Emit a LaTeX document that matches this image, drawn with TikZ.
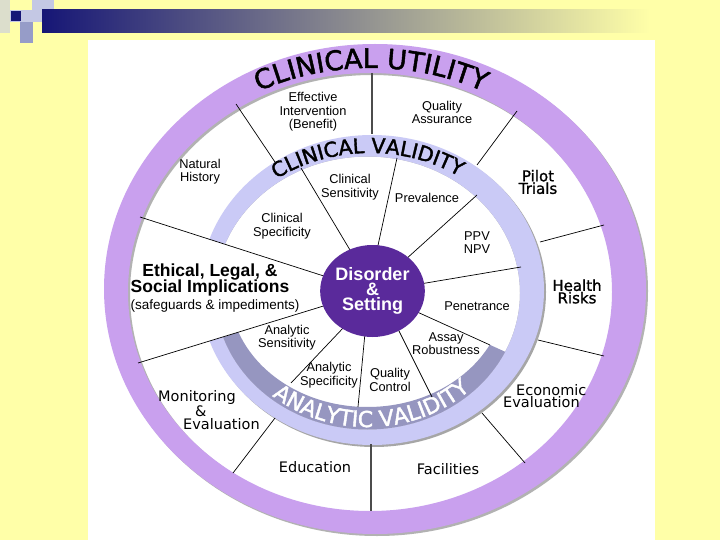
\documentclass[tikz,border=0pt]{standalone}
\usepackage{fontspec}
\setmainfont{Liberation Sans}
\newfontfamily\wheelfont{DejaVu Sans}
\newfontfamily\wheelboldfont[FakeBold=1.2]{DejaVu Sans}
\newfontfamily\ringtitlefont[FakeBold=1.8]{DejaVu Sans}
\usetikzlibrary{decorations.text,shapes.geometric}
\definecolor{slidebg}{RGB}{255,255,168}
\definecolor{navy}{RGB}{22,22,118}
\definecolor{pixlight}{RGB}{196,200,228}
\definecolor{pixmid}{RGB}{150,156,200}
\definecolor{utilc}{RGB}{201,160,238}
\definecolor{clinc}{RGB}{202,202,246}
\definecolor{analc}{RGB}{150,150,192}
\definecolor{hubc}{RGB}{90,42,155}
\newcommand{\utilfont}{\ringtitlefont\fontsize{27}{27}\selectfont}
\newcommand{\clinfont}{\ringtitlefont\fontsize{20.5}{20.5}\selectfont}
\newcommand{\analfont}{\ringtitlefont\fontsize{22}{22}\selectfont}

\begin{document}
\begin{tikzpicture}[x=1pt, y=1pt,
  lbl/.style={align=center, inner sep=0pt, font=\fontsize{12.8}{13.5}\selectfont},
  outlbl/.style={align=center, inner sep=0pt, font=\wheelfont\fontsize{14.5}{12.7}\selectfont},
  outbold/.style={align=center, inner sep=0pt, font=\wheelboldfont\fontsize{15}{12.5}\selectfont},
  spoke/.style={line width=0.7pt},
  mainspoke/.style={line width=1.8pt, black!70},
  hub/.style={ellipse, fill=hubc, text=white, inner sep=0pt, minimum width=103pt, minimum height=92pt, align=center, font=\bfseries\fontsize{18}{15}\selectfont}]

  \useasboundingbox (0,0) rectangle (720,-540);
  \fill[slidebg] (0,0) rectangle (720,-540);

  % header
  \fill[pixlight!60!slidebg] (0,0) rectangle (10,-33);
  \fill[pixlight] (32,0) rectangle (54,-10);
  \fill[pixlight] (22,-10) rectangle (42,-22);
  \fill[pixmid] (20,-22) rectangle (33,-43);
  \fill[navy, draw=pixlight, line width=1pt] (10.5,-10.5) rectangle (21.5,-21.5);
  \shade[left color=navy, right color=slidebg] (42,-10) rectangle (650,-33);
  \fill[white] (88,-40) rectangle (655,-540);

  % rings
  \fill[black!30, even odd rule] (377,-291) ellipse [x radius=271pt, y radius=245pt] (372,-294) ellipse [x radius=242pt, y radius=219pt];
  \fill[utilc, even odd rule] (375,-289) ellipse [x radius=271pt, y radius=245pt] (370,-292) ellipse [x radius=242pt, y radius=219pt];
  \fill[black!35, even odd rule] (374,-292) ellipse [x radius=172pt, y radius=155pt] (367.5,-293) ellipse [x radius=152.5pt, y radius=136.5pt];
  \fill[clinc, even odd rule] (372,-290) ellipse [x radius=172pt, y radius=155pt] (367.5,-293) ellipse [x radius=152.5pt, y radius=136.5pt];
  \begin{scope}
    \clip (323,-306) -- (120,-369) -- (120,-560) -- (620,-560) -- (600,-395) -- (420,-313) -- cycle;
    \fill[analc, even odd rule] (367.5,-293) ellipse [x radius=152.5pt, y radius=136.5pt] (367.5,-291) ellipse [x radius=138pt, y radius=116pt];
  \end{scope}
  \fill[white] (190,-233) -- (323,-276) -- (323,-306) -- (190,-347) -- cycle;

  % spokes
  \draw[mainspoke] (372,-73) -- (372,-134);
  \draw[mainspoke] (371,-444) -- (371,-511);
  \draw[spoke] (236,-104) -- (275,-162);
  \draw[spoke] (517,-111) -- (477,-165);
  \draw[spoke] (604,-225) -- (540,-242);
  \draw[spoke] (538,-340) -- (604,-356);
  \draw[spoke] (482,-413) -- (525,-463);
  \draw[spoke] (275,-418) -- (233,-473);
  \draw[spoke] (140,-217) -- (330,-278);
  \draw[spoke] (138,-363) -- (330,-304);
  \draw[spoke] (301,-168) -- (350,-250);
  \draw[spoke] (397,-158) -- (377,-250);
  \draw[spoke] (477,-195) -- (405,-260);
  \draw[spoke] (521,-267) -- (420,-284);
  \draw[spoke] (415,-311) -- (490,-345);
  \draw[spoke] (398,-329) -- (432,-397);
  \draw[spoke] (365,-333) -- (358,-407);
  \draw[spoke] (345,-326) -- (291,-383);

  \node[hub] (disorder) at (372.5,-291) {Disorder\\\&\\Setting};

  % ring titles
  \path[decorate, decoration={text along path, text align=center, text={|\utilfont|CLINICAL UTILITY}}] (371,-291) ++(150:252pt and 223pt) arc [start angle=150, end angle=30, x radius=252pt, y radius=223pt];
  \path[decorate, decoration={text along path, text align=center, text={|\clinfont|CLINICAL VALIDITY}}] (370,-291) ++(158:160pt and 138pt) arc [start angle=158, end angle=24, x radius=160pt, y radius=138pt];
  \path[decorate, decoration={text along path, text align=center, text color=white, text={|\analfont|ANALYTIC VALIDITY}}] (367.5,-292) ++(202:149pt and 135pt) arc [start angle=202, end angle=342, x radius=149pt, y radius=135pt];

  % labels
  \node[lbl] (effective) at (313,-112) {Effective\\Intervention\\(Benefit)};
  \node[lbl] (quality) at (442,-112.5) {Quality\\Assurance};
  \node[lbl] (natural) at (200,-171.5) {Natural\\History};
  \node[lbl] (clinsens) at (350,-187) {Clinical\\Sensitivity};
  \node[lbl] (prevalence) at (427,-198) {Prevalence};
  \node[outbold] (pilot) at (538,-182) {Pilot\\Trials};
  \node[lbl] (clinspec) at (282,-226) {Clinical\\Specificity};
  \node[lbl] (ppv) at (477,-242.5) {PPV\\NPV};
  \node[align=center, inner sep=0pt, font=\bfseries\fontsize{17.5}{16.6}\selectfont] (elsi) at (210,-280) {Ethical, Legal, \&\\Social Implications};
  \node[inner sep=0pt, font=\fontsize{13.5}{14}\selectfont] (safeguards) at (215,-306) {(safeguards \& impediments)};
  \node[lbl] (penetrance) at (477,-306) {Penetrance};
  \node[outbold] (health) at (577,-291.5) {Health\\Risks};
  \node[lbl] (anasens) at (287,-337.5) {Analytic\\Sensitivity};
  \node[lbl] (assay) at (446,-343.5) {Assay\\Robustness};
  \node[lbl] (anaspec) at (329,-375) {Analytic\\Specificity};
  \node[lbl] (control) at (390,-380) {Quality\\Control};
  \node[outlbl, align=left, anchor=west] (econ) at (503,-396) {\hspace{13pt}Economic\\Evaluation};
  \node[outlbl, align=left, anchor=west] (monitor) at (158,-410) {Monitoring\\\hspace{37pt}\&\\\hspace{25pt}Evaluation};
  \node[outlbl] (education) at (315,-467) {Education};
  \node[outlbl] (facilities) at (448,-469) {Facilities};

\end{tikzpicture}
\end{document}
